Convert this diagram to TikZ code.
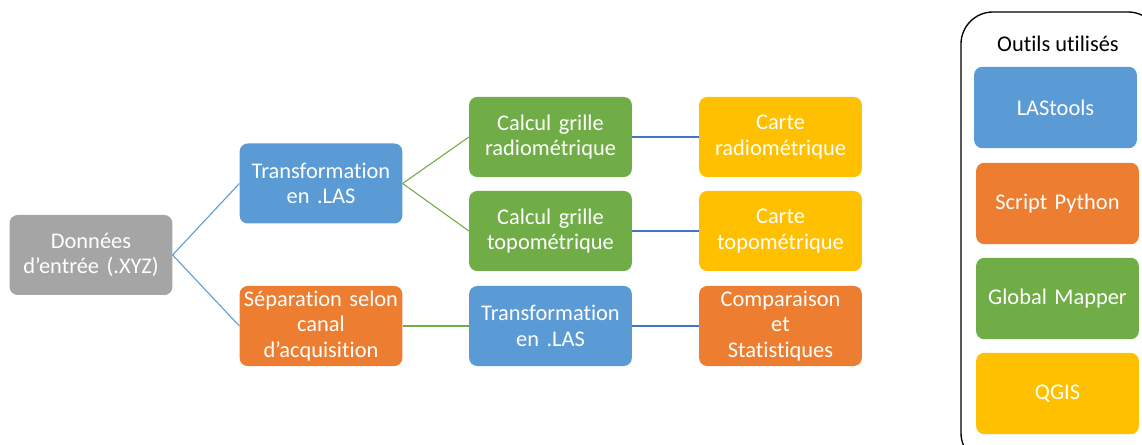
\documentclass[tikz,border=0pt]{standalone}
\usepackage{fontspec}
\setmainfont{Carlito}[Ligatures=NoCommon]
\definecolor{cgrey}{HTML}{A5A5A5}
\definecolor{cblue}{HTML}{5B9BD5}
\definecolor{corange}{HTML}{ED7D31}
\definecolor{cgreen}{HTML}{70AD47}
\definecolor{cgold}{HTML}{FFC000}
\definecolor{clink}{HTML}{4472C4}
\tikzset{
  box/.style={rounded corners=6pt, minimum width=122pt, minimum height=60pt, inner sep=0pt,
    text width=120pt, align=center, text=white, font=\fontsize{16.8}{19}\selectfont},
  tool/.style={box, minimum width=122pt, minimum height=61pt},
  bluelink/.style={draw=cblue, line width=0.8pt},
  greenlink/.style={draw=cgreen, line width=0.8pt},
  darklink/.style={draw=clink, line width=0.8pt},
}
\begin{document}
\begin{tikzpicture}[x=0.75pt, y=-0.75pt]
\useasboundingbox (0,0) rectangle (1142,445);
\clip (0,0) rectangle (1142,445);
\fill[white] (0,0) rectangle (1142,445);
% panel
\draw[line width=1pt, rounded corners=24pt] (961,12) rectangle (1160,465);
\node[font=\fontsize{16.8}{19}\selectfont, text=black] (outils) at (1058,44) {Outils utilisés};
\node[tool, fill=cblue] (lastools) at (1055.5,107.5) {LAStools};
\node[tool, fill=corange] (python) at (1057.5,203.5) {Script Python};
\node[tool, fill=cgreen] (gm) at (1057.5,298.5) {Global Mapper};
\node[tool, fill=cgold] (qgis) at (1057.5,393.5) {QGIS};
% main tree
\node[box, fill=cgrey] (donnees) at (91,255) {Données\\d’entrée (.XYZ)};
\node[box, fill=cblue] (trans1) at (321,183.5) {Transformation\\en .LAS};
\node[box, fill=corange] (sep) at (321,326) {Séparation selon\\canal\\d’acquisition};
\node[box, fill=cgreen] (radio) at (550.5,137) {Calcul grille\\radiométrique};
\node[box, fill=cgreen] (topo) at (550.5,231) {Calcul grille\\topométrique};
\node[box, fill=cblue] (trans2) at (550.5,326) {Transformation\\en .LAS};
\node[box, fill=cgold] (carteradio) at (780.5,137) {Carte\\radiométrique};
\node[box, fill=cgold] (cartetopo) at (780.5,231) {Carte\\topométrique};
\node[box, fill=corange] (comp) at (780.5,326) {Comparaison\\et\\Statistiques};
% connectors
\draw[bluelink] (donnees.east) -- (trans1.west);
\draw[bluelink] (donnees.east) -- (sep.west);
\draw[greenlink] (trans1.east) -- (radio.west);
\draw[greenlink] (trans1.east) -- (topo.west);
\draw[greenlink] (sep.east) -- (trans2.west);
\draw[darklink] (radio.east) -- (carteradio.west);
\draw[darklink] (topo.east) -- (cartetopo.west);
\draw[darklink] (trans2.east) -- (comp.west);
\end{tikzpicture}
\end{document}
